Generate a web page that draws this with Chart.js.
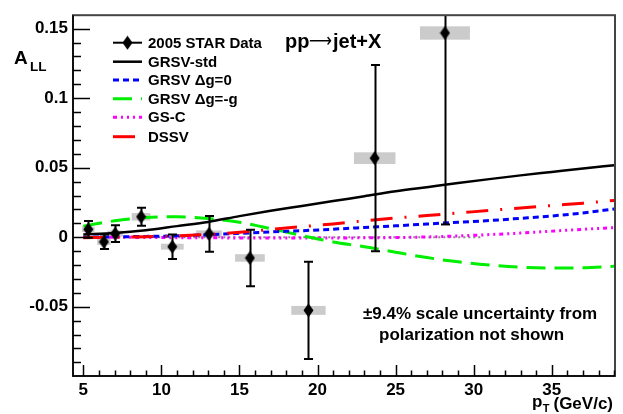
<!DOCTYPE html>
<html><head><meta charset="utf-8">
<script src="https://cdn.jsdelivr.net/npm/chart.js@4"></script>
<style>html,body{margin:0;padding:0;background:#fff}</style>
</head><body>
<canvas id="c" width="623" height="414"></canvas>
<script>
// ---- data ----
const ptX     = [5.32, 6.32, 7.04, 8.70, 10.70, 13.05, 15.67, 19.42, 23.66, 28.16];
const ptY     = [0.0057, -0.0033, 0.0026, 0.0147, -0.0068, 0.0024, -0.0149, -0.0526, 0.0569, 0.1469];
const statErr = [0.006, 0.0052, 0.006, 0.0065, 0.0088, 0.0128, 0.0203, 0.035, 0.067, 0.1377];
const sysHalfW = [0.40, 0.43, 0.50, 0.60, 0.73, 0.82, 0.95, 1.10, 1.33, 1.60];
const sysHalfH = [0.0020, 0.0022, 0.0022, 0.0027, 0.0021, 0.0025, 0.0027, 0.0032, 0.0042, 0.0048];

const curveX   = [5,7,9,11,13,15,17,19,21,23,25,27,29,31,33,35,37,39];
const grsvStd  = [0.002,0.003,0.005,0.008,0.011,0.0152,0.019,0.0225,0.026,0.0295,0.033,0.036,0.039,0.0418,0.0445,0.047,0.0495,0.0517];
const grsvZero = [0,0.0003,0.0006,0.001,0.0018,0.0028,0.0038,0.0047,0.0058,0.007,0.0082,0.0095,0.0108,0.012,0.0136,0.0153,0.0175,0.0203];
const grsvNeg  = [0.008,0.0118,0.0142,0.0147,0.0135,0.0108,0.0062,0.0012,-0.0034,-0.0068,-0.0108,-0.0146,-0.0177,-0.0200,-0.0216,-0.0222,-0.0219,-0.0209];
const gsC      = [0,0,-0.0002,-0.0003,-0.0004,-0.0005,-0.0006,-0.0006,-0.0006,-0.0004,-0.0002,0.0002,0.0009,0.0019,0.003,0.0044,0.0057,0.0069];
const dssv     = [-0.0003,0,0.0004,0.001,0.002,0.0036,0.0056,0.0076,0.0096,0.0118,0.0138,0.0156,0.0174,0.0193,0.021,0.0228,0.0245,0.0265];
const zeroLineX = [5, 30.5];
const zeroLineY = [0, 0];

const xTicks = [5,10,15,20,25,30,35];
const yTicks = [-0.05,0,0.05,0.1,0.15];
const seriesNames = ['2005 STAR Data','GRSV-std','GRSV \u0394g=0','GRSV \u0394g=-g','GS-C','DSSV'];
const titleParts = ['pp', '\u27f6', 'jet+X'];
const noteLines = ['\u00b19.4% scale uncertainty from','polarization not shown'];

// ---- helpers ----
const F = '"Liberation Sans", Arial, Helvetica, sans-serif';
const xy = (xs, ys) => xs.map((x,i)=>({x, y: ys[i]}));
const dm = document.createElement('canvas');
dm.width = 11; dm.height = 15;
(function(){const g=dm.getContext('2d');g.fillStyle='#000';g.beginPath();g.moveTo(5.5,0.5);g.lineTo(10.5,7.5);g.lineTo(5.5,14.5);g.lineTo(0.5,7.5);g.closePath();g.fill();})();

const curveDs = (label, ys, color, dash, w, order) => ({
  label, data: xy(curveX, ys), showLine: true, borderColor: color, borderWidth: w,
  borderDash: dash, pointRadius: 0, tension: 0.4, cubicInterpolationMode: 'monotone', order
});

const datasets = [
  {label: seriesNames[0], data: xy(ptX, ptY), pointStyle: dm, pointRadius: 6, showLine: false, order: 0, borderColor:'#000', backgroundColor:'#000'},
  curveDs(seriesNames[1], grsvStd, '#000000', [], 2.5, 2),
  curveDs(seriesNames[2], grsvZero, '#0000ff', [6,4], 3, 3),
  curveDs(seriesNames[3], grsvNeg, '#00ee00', [19,9], 3, 4),
  curveDs(seriesNames[4], gsC, '#ff00ff', [4,4,2,4,2,4,2,4], 3, 5),
  curveDs(seriesNames[5], dssv, '#ff0000', [22,12,2,12], 3, 1),
  {label:'zero', data: xy(zeroLineX, zeroLineY), showLine:true, borderColor:'#888', borderWidth:2, borderDash:[2,3], pointRadius:0, order: 6}
];

const rootPlugin = {
  id: 'rootStyle',
  beforeDatasetsDraw(chart){
    const {ctx, chartArea:a, scales:{x, y}} = chart;
    ctx.save();
    ctx.beginPath(); ctx.rect(a.left, a.top, a.right-a.left, a.bottom-a.top); ctx.clip();
    ctx.fillStyle = '#cbcbcb';
    ptX.forEach((px,i)=>{
      const x0 = x.getPixelForValue(px - sysHalfW[i]), x1 = x.getPixelForValue(px + sysHalfW[i]);
      const y0 = y.getPixelForValue(ptY[i] + sysHalfH[i]), y1 = y.getPixelForValue(ptY[i] - sysHalfH[i]);
      ctx.fillRect(x0, y0, x1-x0, y1-y0);
    });
    ctx.restore();
  },
  beforeDatasetDraw(chart, args){
    if (args.index !== 0) return;
    const {ctx, chartArea:a, scales:{x, y}} = chart;
    ctx.save();
    ctx.strokeStyle = '#000'; ctx.lineWidth = 2;
    ptX.forEach((px,i)=>{
      const cx = Math.round(x.getPixelForValue(px)) + 0.5;
      let yt = y.getPixelForValue(ptY[i] + statErr[i]);
      let yb = y.getPixelForValue(ptY[i] - statErr[i]);
      const capT = yt >= a.top, capB = yb <= a.bottom;
      yt = Math.max(yt, a.top); yb = Math.min(yb, a.bottom);
      ctx.beginPath(); ctx.moveTo(cx, yt); ctx.lineTo(cx, yb); ctx.stroke();
      ctx.beginPath();
      if (capT) { ctx.moveTo(cx-4.5, yt); ctx.lineTo(cx+4.5, yt); }
      if (capB) { ctx.moveTo(cx-4.5, yb); ctx.lineTo(cx+4.5, yb); }
      ctx.stroke();
    });
    ctx.restore();
  },
  afterDraw(chart){
    const {ctx, chartArea:a, scales:{x, y}} = chart;
    ctx.save();
    // frame
    ctx.strokeStyle = '#444'; ctx.lineWidth = 2;
    ctx.strokeRect(a.left, a.top, a.right-a.left, a.bottom-a.top);
    ctx.strokeStyle = '#000'; ctx.lineWidth = 1.5;
    ctx.beginPath(); ctx.moveTo(a.left, a.top); ctx.lineTo(a.left, a.bottom); ctx.lineTo(a.right, a.bottom); ctx.stroke();
    // y ticks (inward)
    ctx.lineWidth = 1.5;
    ctx.beginPath();
    for (let k=-9; k<=15; k++){
      const v = k/100, py = Math.round(y.getPixelForValue(v))+0.5;
      if (py < a.top || py > a.bottom) continue;
      const len = (k % 5 === 0) ? 17 : 8;
      ctx.moveTo(a.left, py); ctx.lineTo(a.left+len, py);
    }
    // x ticks (inward)
    for (let v=5; v<=39; v++){
      const px = Math.round(x.getPixelForValue(v))+0.5;
      const len = (v % 5 === 0) ? 11 : 5.5;
      ctx.moveTo(px, a.bottom); ctx.lineTo(px, a.bottom-len);
    }
    ctx.stroke();
    // legend
    const rows = [42.7, 61.7, 80, 98.7, 117.3, 136.7];
    const order = [0,1,2,3,4,5];
    ctx.font = 'bold 15px ' + F; ctx.textBaseline = 'middle'; ctx.fillStyle = '#000';
    order.forEach((di, r)=>{
      const ds = chart.data.datasets[di];
      const ry = rows[r];
      if (di === 0){
        ctx.strokeStyle = '#000'; ctx.lineWidth = 2; ctx.setLineDash([]);
        ctx.beginPath(); ctx.moveTo(113, ry); ctx.lineTo(142, ry); ctx.stroke();
        ctx.drawImage(dm, 127.5-5.5, ry-7.5);
      } else {
        ctx.strokeStyle = ds.borderColor; ctx.lineWidth = ds.borderWidth; ctx.setLineDash(ds.borderDash || []);
        ctx.beginPath(); ctx.moveTo(113, ry); ctx.lineTo(142, ry); ctx.stroke();
      }
      ctx.setLineDash([]);
      ctx.fillText(ds.label, 148, ry+1);
    });
    // title: pp -> jet+X
    ctx.textBaseline = 'alphabetic';
    ctx.font = 'bold 20px ' + F;
    ctx.fillText(titleParts[0], 285, 48);
    ctx.font = '20px "DejaVu Sans", sans-serif';
    const aw = ctx.measureText(titleParts[1]).width;
    ctx.save();
    ctx.translate(309, 0); ctx.scale(23/aw, 1);
    ctx.fillText(titleParts[1], 0, 47);
    ctx.restore();
    ctx.font = 'bold 20px ' + F;
    ctx.fillText(titleParts[2], 333, 48);
    // y title
    ctx.font = 'bold 19px ' + F;
    ctx.fillText('A', 14, 64);
    ctx.font = 'bold 13.5px ' + F;
    ctx.fillText('LL', 30, 70.5);
    // x title
    ctx.font = 'bold 17px ' + F;
    ctx.textAlign = 'right';
    ctx.fillText('(GeV/c)', 613, 409);
    const w2 = ctx.measureText('(GeV/c)').width;
    ctx.font = 'bold 11px ' + F;
    const wT = ctx.measureText('T').width;
    ctx.fillText('T', 613 - w2 - 4, 412);
    ctx.font = 'bold 17px ' + F;
    ctx.fillText('p', 613 - w2 - 4 - wT - 0.5, 407);
    // note
    ctx.textAlign = 'left';
    ctx.font = 'bold 17px ' + F;
    ctx.fillText(noteLines[0], 363, 319);
    ctx.fillText(noteLines[1], 379, 340);
    ctx.restore();
  }
};

new Chart(document.getElementById('c'), {
  type: 'scatter',
  data: { datasets },
  plugins: [rootPlugin],
  options: {
    responsive: false, animation: false, devicePixelRatio: 1,
    layout: { padding: { left: 0, top: 9, right: 8, bottom: 0 } },
    plugins: { legend: { display: false }, tooltip: { enabled: false } },
    scales: {
      x: {
        type: 'linear', min: 4.34, max: 39.05,
        afterBuildTicks: s => { s.ticks = xTicks.map(v=>({value:v})); },
        afterFit: s => { s.height = 38; },
        grid: { display: false, drawTicks: false },
        border: { display: false },
        ticks: { padding: 4, color: '#000', font: { family: F, size: 17, weight: 'bold' }, maxRotation: 0, autoSkip: false,
                 callback: v => String(v) }
      },
      y: {
        type: 'linear', min: -0.0998, max: 0.1597,
        afterBuildTicks: s => { s.ticks = yTicks.map(v=>({value:v})); },
        afterFit: s => { s.width = 73; },
        grid: { display: false, drawTicks: false },
        border: { display: false },
        ticks: { padding: 5, color: '#000', font: { family: F, size: 17, weight: 'bold' }, autoSkip: false,
                 callback: v => String(Math.round(v*100)/100) }
      }
    }
  }
});
</script>
</body></html>
